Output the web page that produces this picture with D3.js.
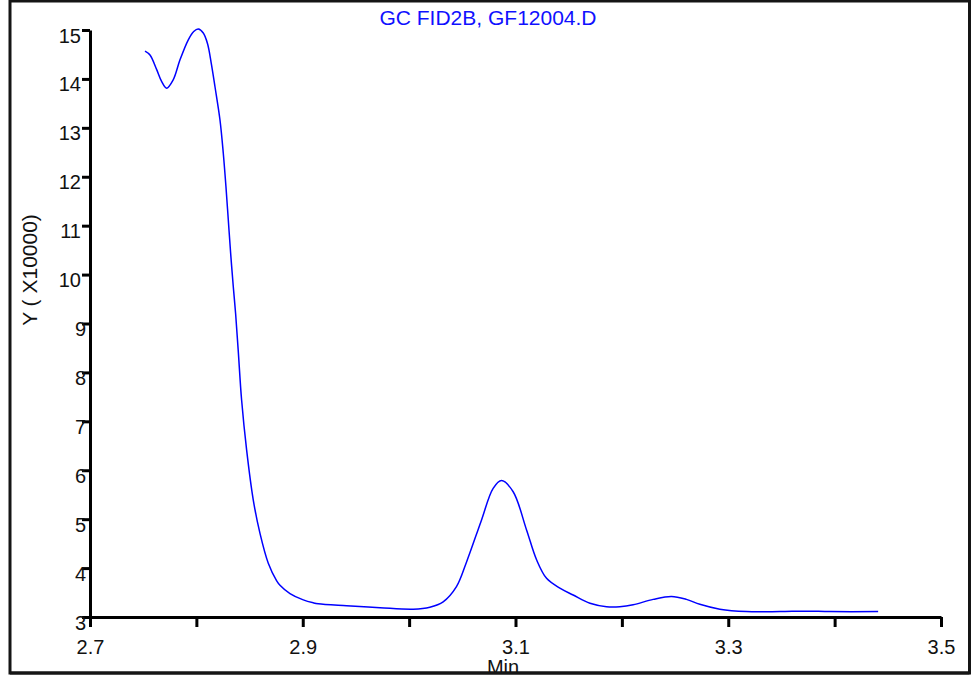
<!DOCTYPE html>
<html>
<head>
<meta charset="utf-8">
<script src="https://cdn.jsdelivr.net/npm/d3@7"></script>
<style>
  html, body { margin: 0; padding: 0; background: #fff; }
  svg { display: block; }
  text { font-family: "Liberation Sans", Arial, sans-serif; }
</style>
</head>
<body>
<div id="chart"></div>
<script>
// retention time (min) and detector signal (x10000)
const timeMin = [
  2.7517, 2.7564, 2.7627, 2.7673, 2.772, 2.7782, 2.7846, 2.7924, 2.7975, 2.8018,
  2.8065, 2.8105, 2.814, 2.8175, 2.8222, 2.8253, 2.8278, 2.83, 2.8322, 2.8347,
  2.8369, 2.8393, 2.8425, 2.8472, 2.8535, 2.8598, 2.8676, 2.8755, 2.8786, 2.888,
  2.9005, 2.9099, 2.9146, 2.9412, 2.9726, 3.0038, 3.0195, 3.032, 3.0445, 3.0539,
  3.068, 3.079, 3.0869, 3.0978, 3.1104, 3.1198, 3.1292, 3.1417, 3.1542, 3.17,
  3.1856, 3.198, 3.2106, 3.2294, 3.2466, 3.2607, 3.2733, 3.2921, 3.3171, 3.3485,
  3.3735, 3.3955, 3.4409
];
const signal = [
  14.57, 14.49, 14.19, 13.95, 13.81, 13.98, 14.39, 14.80, 14.97, 15.02,
  14.94, 14.72, 14.32, 13.84, 13.16, 12.48, 11.80, 11.12, 10.44, 9.75,
  9.20, 8.46, 7.44, 6.42, 5.39, 4.71, 4.10, 3.74, 3.65, 3.48,
  3.35, 3.29, 3.27, 3.23, 3.19, 3.16, 3.20, 3.31, 3.62, 4.12,
  4.98, 5.63, 5.79, 5.56, 4.78, 4.17, 3.79, 3.59, 3.45, 3.28,
  3.21, 3.21, 3.25, 3.36, 3.42, 3.36, 3.26, 3.16, 3.11, 3.11,
  3.12, 3.11, 3.11
];
const xTicks = [2.7, 2.8, 2.9, 3.0, 3.1, 3.2, 3.3, 3.4, 3.5];
const xLabelled = [2.7, 2.9, 3.1, 3.3, 3.5];
const yTicks = [3, 4, 5, 6, 7, 8, 9, 10, 11, 12, 13, 14, 15];

const title = 'GC FID2B, GF12004.D';
const xTitle = 'Min';
const yTitle = 'Y ( X10000)';

const W = 971, H = 675;
const plot = { left: 90, right: 941, top: 30, bottom: 617 };

const svg = d3.select('#chart').append('svg')
  .attr('width', W)
  .attr('height', H);

const x = d3.scaleLinear().domain([2.7, 3.5]).range([plot.left, plot.right]);
const y = d3.scaleLinear().domain([3, 15]).range([plot.bottom, plot.top]);

// outer frame
svg.append('rect')
  .attr('x', 10).attr('y', 1)
  .attr('width', 959.5).attr('height', 672)
  .attr('fill', 'none')
  .attr('stroke', '#151515')
  .attr('stroke-width', 3);

// title
svg.append('text')
  .attr('x', 488).attr('y', 25)
  .attr('text-anchor', 'middle')
  .attr('font-size', 21)
  .attr('fill', '#1010ff')
  .text(title);

// x axis
const xAxis = svg.append('g')
  .attr('transform', `translate(0,${plot.bottom})`)
  .call(d3.axisBottom(x)
    .tickValues(xTicks)
    .tickSize(10)
    .tickSizeOuter(0)
    .tickFormat(d => xLabelled.some(v => Math.abs(v - d) < 1e-9) ? d3.format('.1f')(d) : ''));
xAxis.select('.domain').attr('stroke', '#000').attr('stroke-width', 3);
xAxis.selectAll('.tick line').attr('stroke', '#000').attr('stroke-width', 3);
xAxis.selectAll('.tick text')
  .attr('y', 37).attr('dy', null)
  .attr('font-size', 20)
  .attr('font-family', '"Liberation Sans", Arial, sans-serif')
  .attr('fill', '#111');

// y axis
const yAxis = svg.append('g')
  .attr('transform', `translate(${plot.left},0)`)
  .call(d3.axisLeft(y)
    .tickValues(yTicks)
    .tickSize(8)
    .tickSizeOuter(0)
    .tickFormat(d3.format('d')));
yAxis.select('.domain').attr('stroke', '#000').attr('stroke-width', 3);
yAxis.selectAll('.tick line').attr('stroke', '#000').attr('stroke-width', 3);
yAxis.selectAll('.tick text')
  .attr('x', d => d >= 10 ? -9 : -4)
  .attr('y', 12).attr('dy', null)
  .attr('font-size', 20)
  .attr('font-family', '"Liberation Sans", Arial, sans-serif')
  .attr('fill', '#111');

// axis titles
svg.append('text')
  .attr('x', 503).attr('y', 674)
  .attr('text-anchor', 'middle')
  .attr('font-size', 20)
  .attr('fill', '#111')
  .text(xTitle);

svg.append('text')
  .attr('transform', 'translate(37,270) rotate(-90)')
  .attr('text-anchor', 'middle')
  .attr('font-size', 21)
  .attr('fill', '#111')
  .text(yTitle);

// redraw frame bottom over the x title so it is clipped the same way
svg.append('line')
  .attr('x1', 10).attr('x2', 969.5)
  .attr('y1', 673).attr('y2', 673)
  .attr('stroke', '#151515')
  .attr('stroke-width', 3);

// chromatogram trace
const points = timeMin.map((t, i) => [t, signal[i]]);
const line = d3.line()
  .x(d => x(d[0]))
  .y(d => y(d[1]))
  .curve(d3.curveCatmullRom.alpha(0.5));

svg.append('path')
  .datum(points)
  .attr('fill', 'none')
  .attr('stroke', '#0000ff')
  .attr('stroke-width', 1.5)
  .attr('d', line);
</script>
</body>
</html>
